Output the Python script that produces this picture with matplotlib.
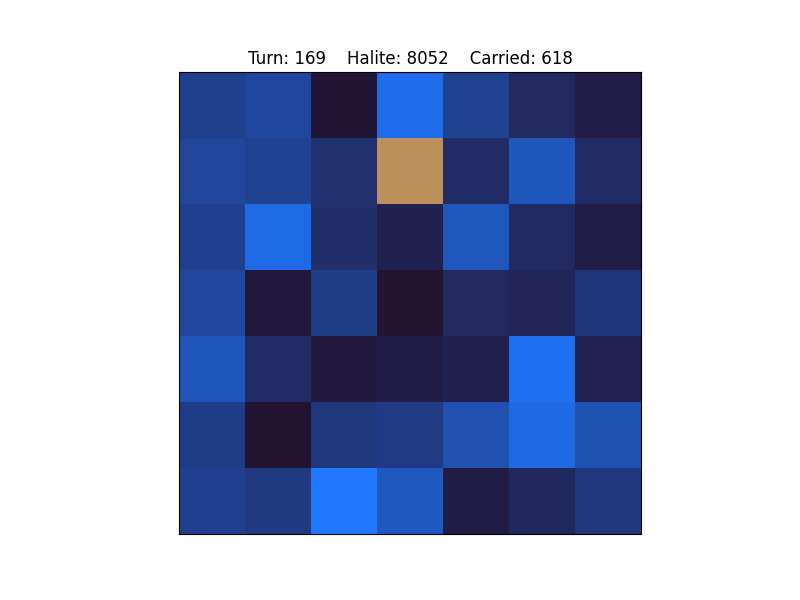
import numpy as np
import matplotlib
matplotlib.use("Agg")
import matplotlib.pyplot as plt
from matplotlib.colors import LinearSegmentedColormap, ListedColormap

turn = 169
halite = 8052
carried = 618

# relative halite per cell (0 = empty, 1 = max)
cells = np.array([
    [0.45, 0.53, 0.03, 0.90, 0.47, 0.23, 0.11],
    [0.52, 0.48, 0.30, 0.00, 0.26, 0.67, 0.25],
    [0.46, 0.88, 0.29, 0.15, 0.68, 0.24, 0.11],
    [0.53, 0.05, 0.42, 0.00, 0.23, 0.19, 0.35],
    [0.67, 0.26, 0.06, 0.10, 0.15, 0.93, 0.16],
    [0.42, 0.00, 0.37, 0.40, 0.62, 0.86, 0.63],
    [0.46, 0.39, 1.00, 0.69, 0.10, 0.22, 0.36],
])

ship_row = 1
ship_col = 3

sea = LinearSegmentedColormap.from_list("sea", ["#221331", "#1f77ff"])

ship = np.ma.masked_all(cells.shape)
ship[ship_row, ship_col] = 1

fig = plt.figure(figsize=(8, 6), dpi=100)
ax = fig.add_subplot(111)
ax.imshow(cells, cmap=sea, vmin=0, vmax=1)
ax.imshow(ship, cmap=ListedColormap(["#bd8f5a"]), vmin=0, vmax=1)
ax.set_xticks([])
ax.set_yticks([])
ax.set_title("Turn: %d    Halite: %d    Carried: %d" % (turn, halite, carried))

plt.savefig("out.png")
